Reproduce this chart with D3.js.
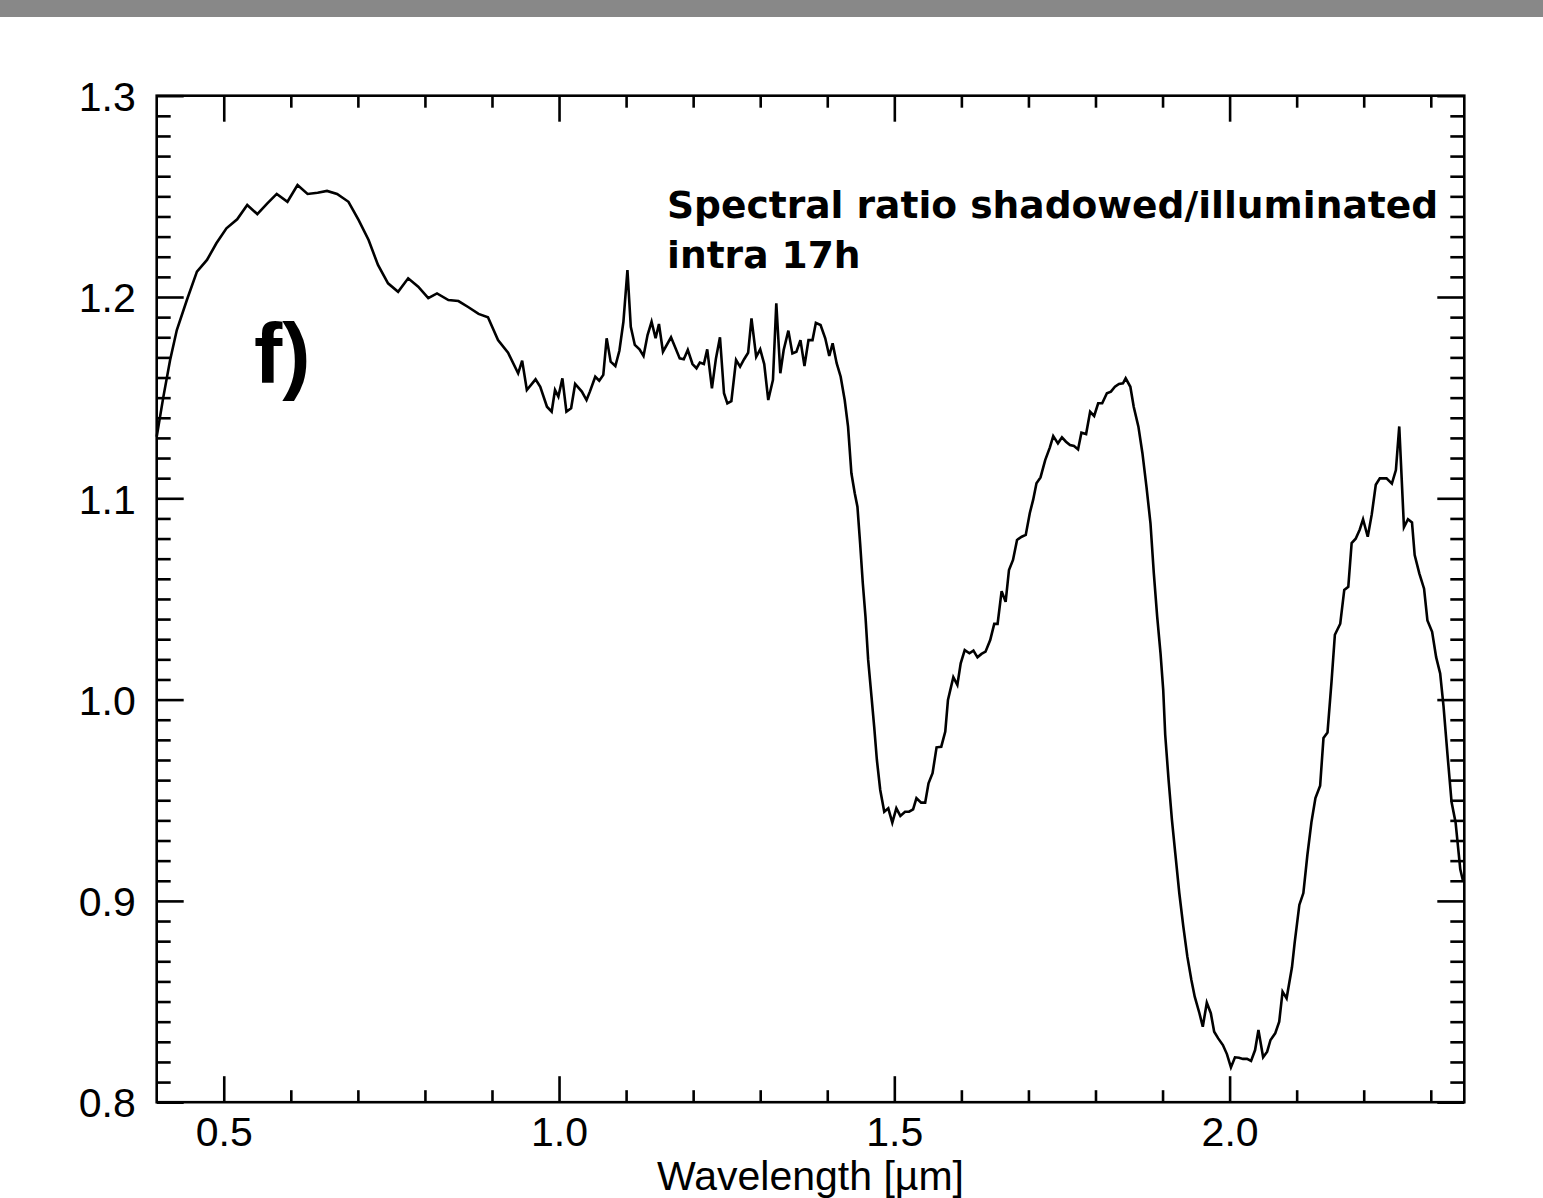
<!DOCTYPE html>
<html>
<head>
<meta charset="utf-8">
<script src="https://cdn.jsdelivr.net/npm/d3@7"></script>
<style>
  html, body { margin: 0; padding: 0; background: #ffffff; }
  svg { display: block; }
</style>
</head>
<body>
<svg id="chart" width="1543" height="1198"></svg>
<script>
// ---------------- data ----------------
const wavelength = [
  0.400,0.410,0.420,0.430,0.445,0.460,0.475,0.489,0.504,0.520,0.535,0.550,0.565,0.579,0.595,0.610,0.625,0.640,0.654,0.669,
  0.686,0.701,0.716,0.730,0.745,0.760,0.775,0.790,0.805,0.818,0.835,0.850,0.865,0.880,0.894,0.909,0.924,0.939,0.945,0.952,
  0.965,0.972,0.982,0.989,0.994,0.999,1.005,1.011,1.018,1.024,1.034,1.041,1.046,1.054,1.060,1.066,1.071,1.077,1.084,1.090,
  1.096,1.102,1.107,1.113,1.120,1.126,1.132,1.138,1.144,1.149,1.155,1.167,1.180,1.186,1.192,1.199,1.205,1.210,1.216,1.221,
  1.228,1.234,1.240,1.246,1.251,1.257,1.264,1.270,1.276,1.282,1.287,1.294,1.300,1.306,1.312,1.319,1.324,1.330,1.335,1.342,
  1.348,1.354,1.360,1.366,1.372,1.378,1.383,1.390,1.397,1.403,1.408,1.414,1.420,1.426,1.431,1.436,1.441,1.445,1.449,1.453,
  1.457,1.461,1.466,1.470,1.474,1.479,1.485,1.491,1.497,1.503,1.509,1.516,1.522,1.528,1.533,1.540,1.546,1.551,1.557,1.563,
  1.570,1.576,1.580,1.588,1.594,1.599,1.605,1.612,1.618,1.624,1.630,1.636,1.643,1.649,1.654,1.660,1.666,1.671,1.677,1.683,
  1.690,1.696,1.702,1.707,1.712,1.718,1.725,1.732,1.737,1.744,1.750,1.756,1.762,1.768,1.774,1.779,1.786,1.792,1.798,1.804,
  1.810,1.817,1.823,1.829,1.835,1.841,1.845,1.852,1.857,1.864,1.870,1.876,1.882,1.887,1.892,1.897,1.901,1.904,1.909,1.914,
  1.919,1.925,1.931,1.937,1.943,1.948,1.955,1.960,1.966,1.972,1.977,1.983,1.990,1.996,2.002,2.008,2.014,2.020,2.026,2.032,
  2.038,2.043,2.050,2.056,2.061,2.068,2.074,2.079,2.085,2.093,2.097,2.104,2.110,2.116,2.122,2.128,2.135,2.140,2.146,2.152,
  2.157,2.165,2.171,2.177,2.182,2.188,2.194,2.199,2.206,2.212,2.218,2.224,2.234,2.242,2.248,2.253,2.260,2.266,2.272,2.276,
  2.283,2.290,2.295,2.302,2.308,2.314,2.319,2.325,2.331,2.337,2.344,2.348
];
const ratio = [
  1.1306,1.1505,1.1687,1.1836,1.1985,1.2126,1.2184,1.2267,1.2341,1.2386,1.2457,1.2412,1.2465,1.2512,1.2473,1.2556,1.2512,1.2518,1.2527,1.2512,
  1.2473,1.2383,1.2283,1.2159,1.2068,1.2026,1.2093,1.2051,1.1994,1.2018,1.1985,1.1980,1.1949,1.1916,1.1899,1.1786,1.1723,1.1621,1.1684,1.1538,
  1.1591,1.1554,1.1455,1.1430,1.1538,1.1505,1.1596,1.1430,1.1447,1.1568,1.1530,1.1488,1.1530,1.1604,1.1584,1.1613,1.1795,1.1679,1.1657,1.1733,
  1.1877,1.2134,1.1852,1.1762,1.1740,1.1707,1.1811,1.1877,1.1795,1.1866,1.1728,1.1800,1.1695,1.1691,1.1737,1.1667,1.1646,1.1674,1.1667,1.1740,
  1.1546,1.1695,1.1800,1.1522,1.1472,1.1483,1.1687,1.1654,1.1691,1.1723,1.1894,1.1703,1.1740,1.1667,1.1488,1.1588,1.1969,1.1621,1.1737,1.1833,
  1.1720,1.1728,1.1786,1.1657,1.1786,1.1786,1.1872,1.1861,1.1795,1.1707,1.1770,1.1671,1.1604,1.1488,1.1356,1.1124,1.1025,1.0958,1.0776,1.0578,
  1.0412,1.0197,1.0014,0.9865,0.9700,0.9551,0.9443,0.9460,0.9389,0.9460,0.9422,0.9443,0.9443,0.9455,0.9510,0.9488,0.9488,0.9584,0.9634,0.9763,
  0.9766,0.9841,0.9998,1.0111,1.0073,1.0180,1.0246,1.0230,1.0243,1.0210,1.0227,1.0238,1.0296,1.0376,1.0376,1.0539,1.0486,1.0644,1.0694,1.0793,
  1.0809,1.0818,1.0926,1.0992,1.1075,1.1104,1.1190,1.1253,1.1309,1.1273,1.1303,1.1281,1.1265,1.1260,1.1243,1.1326,1.1319,1.1430,1.1409,1.1472,
  1.1472,1.1522,1.1530,1.1554,1.1568,1.1571,1.1596,1.1554,1.1455,1.1356,1.1224,1.1058,1.0876,1.0627,1.0412,1.0230,1.0048,0.9824,0.9601,0.9402,
  0.9236,0.9038,0.8872,0.8723,0.8607,0.8524,0.8442,0.8375,0.8494,0.8442,0.8350,0.8317,0.8284,0.8239,0.8173,0.8223,0.8221,0.8215,0.8215,0.8205,
  0.8259,0.8359,0.8223,0.8251,0.8309,0.8342,0.8400,0.8549,0.8516,0.8670,0.8791,0.8980,0.9039,0.9228,0.9390,0.9511,0.9572,0.9809,0.9836,1.0089,
  1.0322,1.0377,1.0545,1.0560,1.0778,1.0799,1.0844,1.0896,1.0809,1.0920,1.1067,1.1099,1.1099,1.1073,1.1140,1.1357,1.0856,1.0896,1.0880,1.0718,
  1.0626,1.0551,1.0393,1.0337,1.0211,1.0130,0.9968,0.9724,0.9491,0.9390,0.9157,0.9100
];

const xDomain = [0.4, 2.35];
const yDomain = [0.8, 1.3];
const xMajorTicks = [0.5, 1.0, 1.5, 2.0];
const xMajorLabels = ["0.5", "1.0", "1.5", "2.0"];
const xMinorTicks = [0.6, 0.7, 0.8, 0.9, 1.1, 1.2, 1.3, 1.4, 1.6, 1.7, 1.8, 1.9, 2.1, 2.2, 2.3];
const yMajorTicks = [0.8, 0.9, 1.0, 1.1, 1.2, 1.3];
const yMajorLabels = ["0.8", "0.9", "1.0", "1.1", "1.2", "1.3"];
const yMinorTicks = d3.range(81, 130).filter(v => v % 10 !== 0).map(v => v / 100);

const xTitle = "Wavelength [µm]";
const annotationLines = ["Spectral ratio shadowed/illuminated", "intra 17h"];
const panelLabel = "f)";

// ---------------- layout ----------------
const svg = d3.select("#chart");
const W = 1543, H = 1198;
const plot = { left: 156.7, right: 1464.3, top: 95.7, bottom: 1102.2 };

const x = d3.scaleLinear().domain(xDomain).range([plot.left, plot.right]);
const y = d3.scaleLinear().domain(yDomain).range([plot.bottom, plot.top]);

const SW = 2.6;
const tickFont = "'Liberation Sans', Arial, Helvetica, sans-serif";

// top gray band
svg.append("rect").attr("x", 0).attr("y", 0).attr("width", W).attr("height", 17).attr("fill", "#888888");

// axes helper
function styleAxis(g) {
  g.select(".domain").remove();
  g.selectAll(".tick line").attr("stroke", "#000").attr("stroke-width", SW);
  g.selectAll("text").attr("fill", "#000").attr("font-family", tickFont).attr("font-size", "41px");
}

// bottom major
svg.append("g").attr("transform", `translate(0,${plot.bottom})`)
  .call(d3.axisBottom(x).tickValues(xMajorTicks).tickSize(-26).tickSizeOuter(0).tickPadding(15)
        .tickFormat((d, i) => xMajorLabels[i]))
  .call(styleAxis);
// bottom minor
svg.append("g").attr("transform", `translate(0,${plot.bottom})`)
  .call(d3.axisBottom(x).tickValues(xMinorTicks).tickSize(-12).tickSizeOuter(0).tickFormat(""))
  .call(styleAxis);
// top major/minor
svg.append("g").attr("transform", `translate(0,${plot.top})`)
  .call(d3.axisTop(x).tickValues(xMajorTicks).tickSize(-26).tickSizeOuter(0).tickFormat(""))
  .call(styleAxis);
svg.append("g").attr("transform", `translate(0,${plot.top})`)
  .call(d3.axisTop(x).tickValues(xMinorTicks).tickSize(-12).tickSizeOuter(0).tickFormat(""))
  .call(styleAxis);
// left major
svg.append("g").attr("transform", `translate(${plot.left},0)`)
  .call(d3.axisLeft(y).tickValues(yMajorTicks).tickSize(-27).tickSizeOuter(0).tickPadding(21)
        .tickFormat((d, i) => yMajorLabels[i]))
  .call(styleAxis)
  .call(g => g.selectAll("text").attr("dy", "0.36em"));
// left minor
svg.append("g").attr("transform", `translate(${plot.left},0)`)
  .call(d3.axisLeft(y).tickValues(yMinorTicks).tickSize(-14).tickSizeOuter(0).tickFormat(""))
  .call(styleAxis);
// right major/minor
svg.append("g").attr("transform", `translate(${plot.right},0)`)
  .call(d3.axisRight(y).tickValues(yMajorTicks).tickSize(-27).tickSizeOuter(0).tickFormat(""))
  .call(styleAxis);
svg.append("g").attr("transform", `translate(${plot.right},0)`)
  .call(d3.axisRight(y).tickValues(yMinorTicks).tickSize(-14).tickSizeOuter(0).tickFormat(""))
  .call(styleAxis);

// frame
svg.append("rect")
  .attr("x", plot.left).attr("y", plot.top)
  .attr("width", plot.right - plot.left).attr("height", plot.bottom - plot.top)
  .attr("fill", "none").attr("stroke", "#000").attr("stroke-width", SW);

// data line
const pts = wavelength.map((w, i) => [w, ratio[i]]);
const line = d3.line().x(d => x(d[0])).y(d => y(d[1]));
svg.append("path").datum(pts)
  .attr("d", line)
  .attr("fill", "none").attr("stroke", "#000").attr("stroke-width", SW)
  .attr("stroke-linejoin", "miter").attr("stroke-miterlimit", 4);

// x title
svg.append("text")
  .attr("x", (plot.left + plot.right) / 2).attr("y", 1190)
  .attr("text-anchor", "middle")
  .attr("font-family", tickFont).attr("font-size", "41px").attr("fill", "#000")
  .text(xTitle);

// annotation
const ann = svg.append("text")
  .attr("font-family", "'DejaVu Sans', Verdana, sans-serif")
  .attr("font-weight", "bold").attr("font-size", "37.6px").attr("fill", "#000");
annotationLines.forEach((t, i) => {
  ann.append("tspan").attr("x", 667).attr("y", 218 + i * 50).text(t);
});

// panel label
svg.append("text")
  .attr("x", 254).attr("y", 383)
  .attr("font-family", tickFont).attr("font-weight", "bold").attr("font-size", "85px").attr("fill", "#000")
  .text(panelLabel);
</script>
</body>
</html>
